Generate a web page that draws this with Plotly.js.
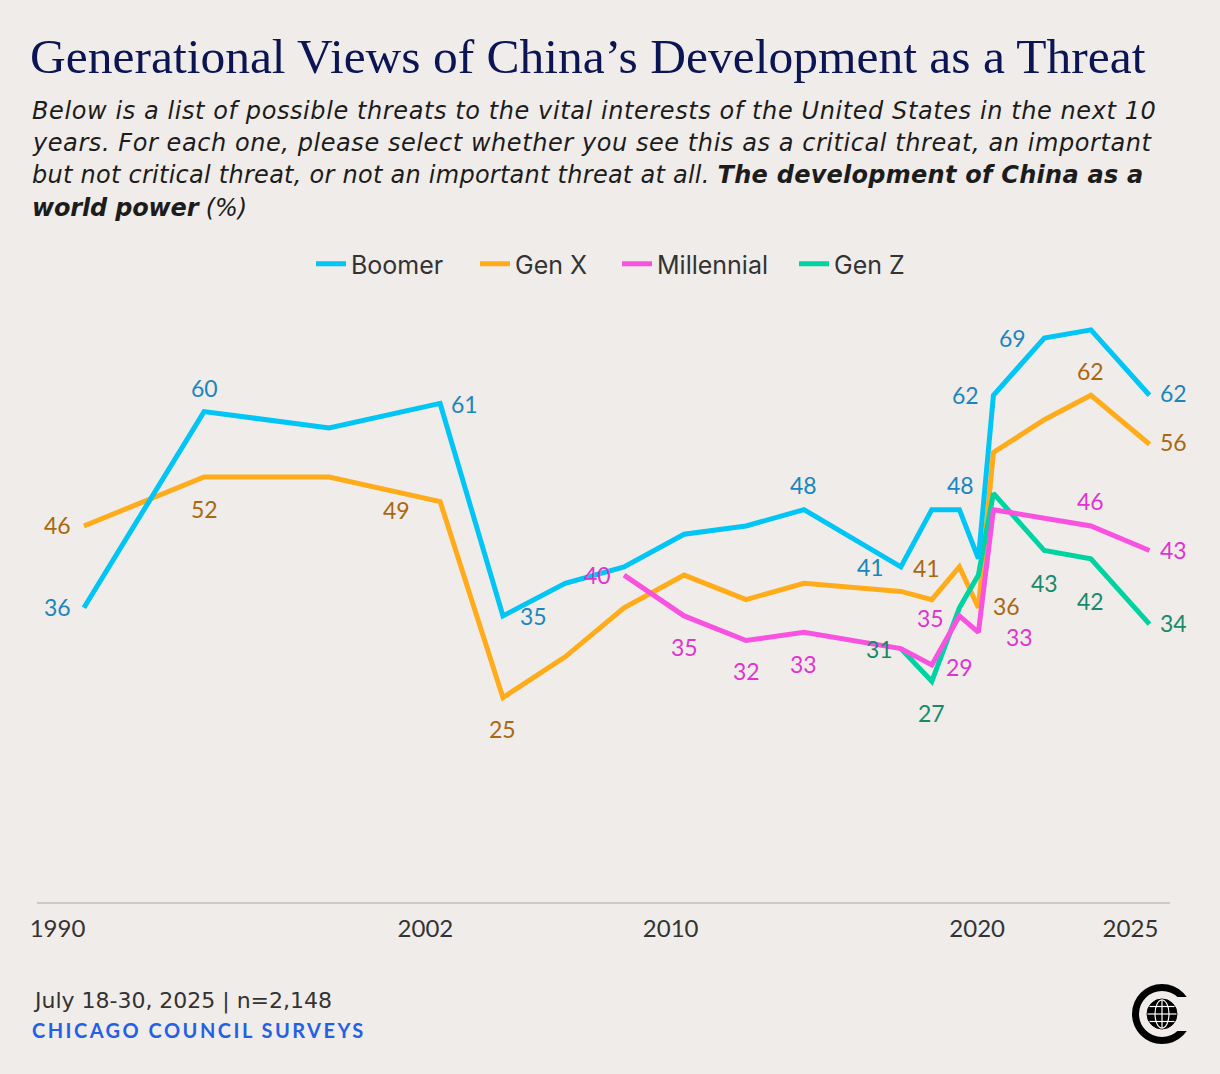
<!DOCTYPE html>
<html>
<head>
<meta charset="utf-8">
<script src="https://cdn.plot.ly/plotly-3.0.1.min.js"></script>
<style>
  html, body { margin: 0; padding: 0; background: #f0ece9; }
  #chart { width: 1220px; height: 1074px; }
</style>
</head>
<body>
<div id="chart"></div>
<script>
// ---------- data ----------
const seriesNames = ["Boomer", "Gen X", "Millennial", "Gen Z"];

const boomerYears = [1990.86, 1994.78, 1998.86, 2002.48, 2004.53, 2006.56, 2008.48, 2010.44, 2012.46, 2014.35, 2017.51, 2018.52, 2019.42, 2020.04, 2020.53, 2022.19, 2023.71, 2025.62];
const boomerValues = [36, 60, 58, 61, 35, 39, 41, 45, 46, 48, 41, 48, 48, 42, 62, 69, 70, 62];

const genXYears = [1990.86, 1994.78, 1998.86, 2002.48, 2004.53, 2006.56, 2008.48, 2010.44, 2012.46, 2014.35, 2017.51, 2018.52, 2019.42, 2020.04, 2020.53, 2022.19, 2023.71, 2025.62];
const genXValues = [46, 52, 52, 49, 25, 30, 36, 40, 37, 39, 38, 37, 41, 36, 55, 59, 62, 56];

const millennialYears = [2008.48, 2010.44, 2012.46, 2014.35, 2017.51, 2018.52, 2019.42, 2020.04, 2020.53, 2022.19, 2023.71, 2025.62];
const millennialValues = [40, 35, 32, 33, 31, 29, 35, 33, 48, 47, 46, 43];

const genZYears = [2017.51, 2018.52, 2019.42, 2020.04, 2020.53, 2022.19, 2023.71, 2025.62];
const genZValues = [31, 27, 36, 40, 50, 43, 42, 34];

const tickYears = [1990, 2002, 2010, 2020, 2025];
const tickLabels = ["1990", "2002", "2010", "2020", "2025"];

// which points carry a value label
const boomerLabelIdx = [0, 1, 3, 4, 9, 10, 12, 14, 15, 17];
const genXLabelIdx = [0, 1, 3, 4, 12, 13, 16, 17];
const millennialLabelIdx = [0, 1, 2, 3, 5, 6, 7, 10, 11];
const genZLabelIdx = [0, 1, 5, 6, 7];

// texts
const titleText = "Generational Views of China\u2019s Development as a Threat";
const subtitleLines = [
  [{t: "Below is a list of possible threats to the vital interests of the United States in the next 10", b: false}],
  [{t: "years. For each one, please select whether you see this as a critical threat, an important", b: false}],
  [{t: "but not critical threat, or not an important threat at all. ", b: false}, {t: "The development of China as a", b: true}],
  [{t: "world power", b: true}, {t: " (%)", b: false}]
];
const sourceText = "July 18-30, 2025 | n=2,148";
const brandText = "CHICAGO COUNCIL SURVEYS";

// ---------- styling ----------
const BG = "#f0ece9";
const lineColors = ["#00c5f5", "#ffab1a", "#f852e0", "#00d3a2"];
const labelColors = ["#1a86bd", "#a9680f", "#df34cf", "#198a69"];
const FONT = "Lato, 'Open Sans', sans-serif";
const SUBFONT = "'DejaVu Sans', 'Open Sans', sans-serif";
const LEG = "Inter, 'Open Sans', sans-serif";

// label offsets (px) relative to the point: [dx, dy(up)]
const boomerOff = [[-26,1],[0,24],[24,-1],[31,0],[0,25],[-30,0],[1,25],[-28,0],[-32,0],[24,2]];
const genXOff = [[-26,1],[0,-32],[-44,-8],[0,-31],[-33,-1],[28,2],[0,24],[24,2]];
const millOff = [[-27,0],[0,-31],[0,-31],[0,-32],[28,-2],[-29,-2],[41,-5],[0,25],[24,1]];
const genZOff = [[-21,0],[0,-32],[0,-32],[0,-42],[24,1]];

// legend entry left edges (px)
const legendLeft = [321, 485, 627, 804];

const series = [
  {name: seriesNames[0], x: boomerYears, y: boomerValues, idx: boomerLabelIdx, off: boomerOff, c: 0},
  {name: seriesNames[1], x: genXYears, y: genXValues, idx: genXLabelIdx, off: genXOff, c: 1},
  {name: seriesNames[2], x: millennialYears, y: millennialValues, idx: millennialLabelIdx, off: millOff, c: 2},
  {name: seriesNames[3], x: genZYears, y: genZValues, idx: genZLabelIdx, off: genZOff, c: 3}
];
const legendIds = ["legend", "legend2", "legend3", "legend4"];

// draw order: Gen X, Gen Z, Millennial, Boomer
const drawOrder = [1, 3, 2, 0];
const traces = drawOrder.map(i => {
  const s = series[i];
  return {
    type: "scatter", mode: "lines", name: s.name,
    x: s.x, y: s.y, legend: legendIds[s.c],
    line: {color: lineColors[s.c], width: 5},
    hoverinfo: "skip"
  };
});

const annotations = [];
series.forEach(s => {
  s.idx.forEach((pi, k) => {
    annotations.push({
      x: s.x[pi], y: s.y[pi], xref: "x", yref: "y",
      text: String(s.y[pi]), showarrow: false,
      xanchor: "center", yanchor: "middle",
      xshift: s.off[k][0], yshift: s.off[k][1],
      font: {family: FONT, size: 23, color: labelColors[s.c]}
    });
  });
});

// helpers: pixel -> paper coordinates
const L = 37, R = 50, T = 289, B = 172, W = 1220, H = 1074;
const pw = W - L - R, ph = H - T - B;
const px = v => (v - L) / pw;
const py = v => (H - B - v) / ph;

// letter-spacing to fit a measured width
const ctx = document.createElement("canvas").getContext("2d");
function measure(segs, size, family, italic) {
  let w = 0, n = 0;
  segs.forEach(s => {
    ctx.font = (italic ? "italic " : "") + (s.b ? "bold " : "") + size + "px " + family;
    w += ctx.measureText(s.t).width;
    n += s.t.length;
  });
  return {w, n};
}
function spacingFor(segs, size, family, italic, target) {
  const m = measure(segs, size, family, italic);
  return (target - m.w) / Math.max(1, m.n - 1);
}

const SUBSIZE = 24;
const subY = [111, 143, 175, 208];
const subRight = [1154, 1148, 1141, 245];
subtitleLines.forEach((segs, i) => {
  const sp = spacingFor(segs, SUBSIZE, SUBFONT, true, subRight[i] - 30);
  const inner = segs.map(s => s.b ? "<b>" + s.t + "</b>" : s.t).join("");
  annotations.push({
    xref: "paper", yref: "paper", x: px(30), y: py(subY[i]),
    xanchor: "left", yanchor: "middle", showarrow: false, align: "left",
    text: "<i><span style=\"letter-spacing:" + sp.toFixed(2) + "px\">" + inner + "</span></i>",
    font: {family: SUBFONT, size: SUBSIZE, color: "#1c1c1c"}
  });
});

const srcSpacing = spacingFor([{t: sourceText, b: false}], 22, SUBFONT, false, 297);
annotations.push({
  xref: "paper", yref: "paper", x: px(31), y: py(1001),
  xanchor: "left", yanchor: "middle", showarrow: false,
  text: "<span style=\"letter-spacing:" + srcSpacing.toFixed(2) + "px\">" + sourceText + "</span>",
  font: {family: SUBFONT, size: 22, color: "#333333"}
});
const brandSpacing = spacingFor([{t: brandText, b: true}], 20, FONT, false, 332);
annotations.push({
  xref: "paper", yref: "paper", x: px(30), y: py(1030),
  xanchor: "left", yanchor: "middle", showarrow: false,
  text: "<b><span style=\"letter-spacing:" + brandSpacing.toFixed(2) + "px\">" + brandText + "</span></b>",
  font: {family: FONT, size: 20, color: "#2460e4"}
});

// logo shapes
const ax = px(1162), ay = py(1014);
function logoShape(o) {
  return Object.assign({xref: "paper", yref: "paper", xsizemode: "pixel", ysizemode: "pixel",
    xanchor: ax, yanchor: ay, layer: "above"}, o);
}
const shapes = [
  logoShape({type: "circle", x0: -26.5, x1: 26.5, y0: -26.5, y1: 26.5, line: {color: "#000", width: 7}, fillcolor: "rgba(0,0,0,0)"}),
  logoShape({type: "rect", x0: 10, x1: 40, y0: -17, y1: 17, line: {width: 0}, fillcolor: BG}),
  logoShape({type: "circle", x0: -15, x1: 15, y0: -15, y1: 15, line: {color: "#000", width: 1}, fillcolor: "#000"}),
  logoShape({type: "circle", x0: -7, x1: 7, y0: -14, y1: 14, line: {color: "#fff", width: 1.2}, fillcolor: "rgba(0,0,0,0)"}),
  logoShape({type: "line", x0: 0, x1: 0, y0: -14.5, y1: 14.5, line: {color: "#fff", width: 1.2}}),
  logoShape({type: "line", x0: -14.5, x1: 14.5, y0: 0, y1: 0, line: {color: "#fff", width: 1.2}}),
  logoShape({type: "line", x0: -12.5, x1: 12.5, y0: 7.5, y1: 7.5, line: {color: "#fff", width: 1.2}}),
  logoShape({type: "line", x0: -12.5, x1: 12.5, y0: -7.5, y1: -7.5, line: {color: "#fff", width: 1.2}})
];

const layout = {
  width: W, height: H,
  paper_bgcolor: BG, plot_bgcolor: BG,
  margin: {l: L, r: R, t: T, b: B},
  title: {
    text: titleText,
    xref: "container", yref: "container",
    x: 30 / W, xanchor: "left", y: 1 - 56 / H, yanchor: "middle",
    font: {family: "'Liberation Serif', 'DejaVu Serif', serif", size: 49.5, color: "#0c1553"}
  },
  showlegend: true,
  xaxis: {
    range: [1989.33, 2026.29], tickvals: tickYears, ticktext: tickLabels,
    showgrid: false, zeroline: false, showline: true, linecolor: "#cacaca", linewidth: 2,
    ticks: "", ticklabelstandoff: 4, tickfont: {family: FONT, size: 24, color: "#333333"}, fixedrange: true
  },
  yaxis: {
    range: [0, 75], visible: false, showgrid: false, zeroline: false, fixedrange: true
  },
  annotations: annotations,
  shapes: shapes,
  hovermode: false
};
legendIds.forEach((id, i) => {
  layout[id] = {
    orientation: "h", x: px(legendLeft[i] - 10), xanchor: "left", y: py(264), yanchor: "middle",
    font: {family: LEG, size: 25, color: "#333333"}, bgcolor: "rgba(0,0,0,0)"
  };
});

Plotly.newPlot("chart", traces, layout, {displayModeBar: false, staticPlot: true});
</script>
</body>
</html>
